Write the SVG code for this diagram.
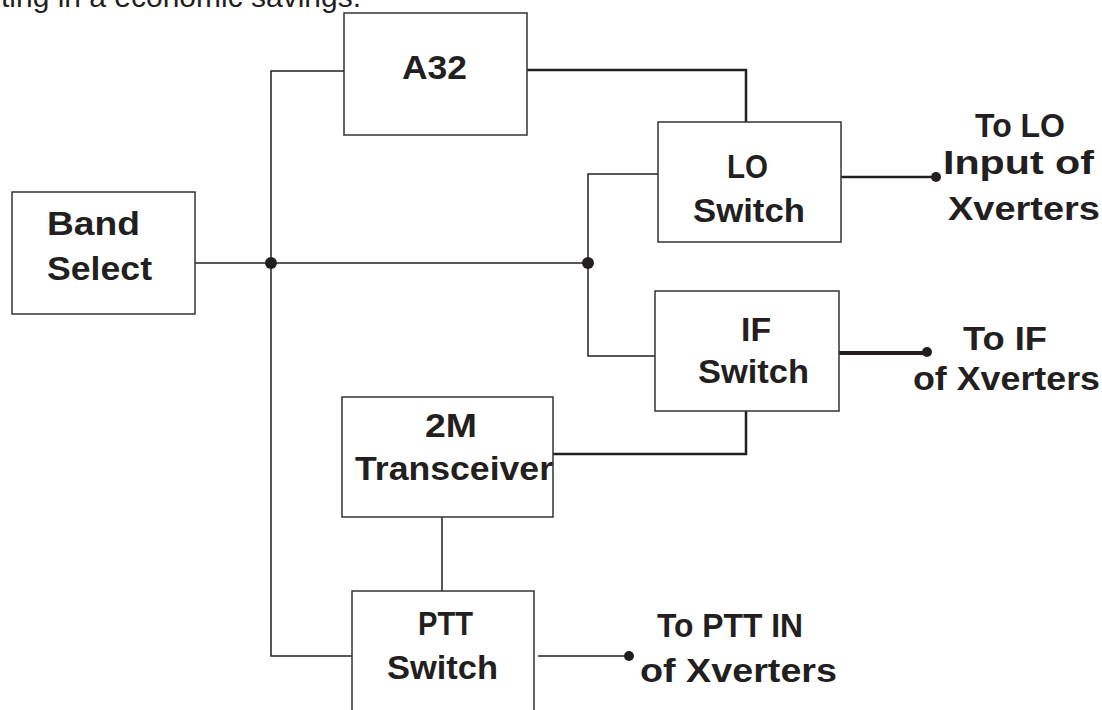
<svg xmlns="http://www.w3.org/2000/svg" width="1102" height="710" viewBox="0 0 1102 710">
<style>
.box{fill:#fff;stroke:#333;stroke-width:1.5}
.lbl{font-family:"Liberation Sans",Arial,sans-serif;font-weight:bold;font-size:33px;fill:#231f20}
.body{font-family:"Liberation Sans",Arial,sans-serif;font-size:30px;fill:#231f20}
.thin{fill:none;stroke:#231f20;stroke-width:1.5}
.med{fill:none;stroke:#231f20;stroke-width:2.5}
.thick{fill:none;stroke:#231f20;stroke-width:4}
.dot{fill:#231f20}
</style>
<rect width="1102" height="710" fill="#fff"/>
<text class="body" x="1" y="7" textLength="360" lengthAdjust="spacingAndGlyphs">ting in a economic savings.</text>
<g id="connectors">
<polyline class="thin" points="344,71 271,71 271,656 352,656"/>
<line class="thin" x1="195" y1="263" x2="588" y2="263"/>
<polyline class="thin" points="658,174 588,174 588,356 655,356"/>
<polyline class="med" points="527,70 746,70 746,122"/>
<polyline class="med" points="746,411 746,454 553,454"/>
<line class="thin" x1="442" y1="517" x2="442" y2="591"/>
<line class="med" x1="841" y1="177" x2="936" y2="177"/>
<line class="thick" x1="837" y1="353" x2="927" y2="353"/>
<line class="thin" x1="538" y1="656" x2="629" y2="656"/>
<circle class="dot" cx="271" cy="263" r="6"/>
<circle class="dot" cx="588" cy="263" r="6"/>
<circle class="dot" cx="936" cy="177" r="5"/>
<circle class="dot" cx="927" cy="352" r="5"/>
<circle class="dot" cx="629" cy="656" r="5"/>
</g>
<g id="band-select">
<rect class="box" x="12" y="192" width="183" height="122"/>
<text class="lbl" x="47" y="235" textLength="93" lengthAdjust="spacingAndGlyphs">Band</text>
<text class="lbl" x="47" y="280" textLength="105" lengthAdjust="spacingAndGlyphs">Select</text>
</g>
<g id="a32">
<rect class="box" x="344" y="13" width="183" height="122"/>
<text class="lbl" x="402" y="79" textLength="65" lengthAdjust="spacingAndGlyphs">A32</text>
</g>
<g id="lo-switch">
<rect class="box" x="658" y="122" width="183" height="120"/>
<text class="lbl" x="727" y="178" textLength="41" lengthAdjust="spacingAndGlyphs">LO</text>
<text class="lbl" x="693" y="222" textLength="112" lengthAdjust="spacingAndGlyphs">Switch</text>
</g>
<g id="if-switch">
<rect class="box" x="655" y="291" width="184" height="120"/>
<text class="lbl" x="741" y="341" textLength="30" lengthAdjust="spacingAndGlyphs">IF</text>
<text class="lbl" x="698" y="383" textLength="111" lengthAdjust="spacingAndGlyphs">Switch</text>
</g>
<g id="transceiver-2m">
<rect class="box" x="342" y="397" width="211" height="120"/>
<text class="lbl" x="425" y="437" textLength="52" lengthAdjust="spacingAndGlyphs">2M</text>
<text class="lbl" x="355" y="480" textLength="198" lengthAdjust="spacingAndGlyphs">Transceiver</text>
</g>
<g id="ptt-switch">
<rect class="box" x="352" y="591" width="182" height="130"/>
<text class="lbl" x="418" y="635" textLength="55" lengthAdjust="spacingAndGlyphs">PTT</text>
<text class="lbl" x="387" y="679" textLength="111" lengthAdjust="spacingAndGlyphs">Switch</text>
</g>
<g id="out-lo">
<text class="lbl" x="975" y="137" textLength="90" lengthAdjust="spacingAndGlyphs">To LO</text>
<text class="lbl" x="943" y="174" textLength="151" lengthAdjust="spacingAndGlyphs">Input of</text>
<text class="lbl" x="948" y="220" textLength="152" lengthAdjust="spacingAndGlyphs">Xverters</text>
</g>
<g id="out-if">
<text class="lbl" x="963" y="350" textLength="84" lengthAdjust="spacingAndGlyphs">To IF</text>
<text class="lbl" x="913" y="390" textLength="187" lengthAdjust="spacingAndGlyphs">of Xverters</text>
</g>
<g id="out-ptt">
<text class="lbl" x="657" y="637" textLength="146" lengthAdjust="spacingAndGlyphs">To PTT IN</text>
<text class="lbl" x="640" y="682" textLength="197" lengthAdjust="spacingAndGlyphs">of Xverters</text>
</g>
</svg>
